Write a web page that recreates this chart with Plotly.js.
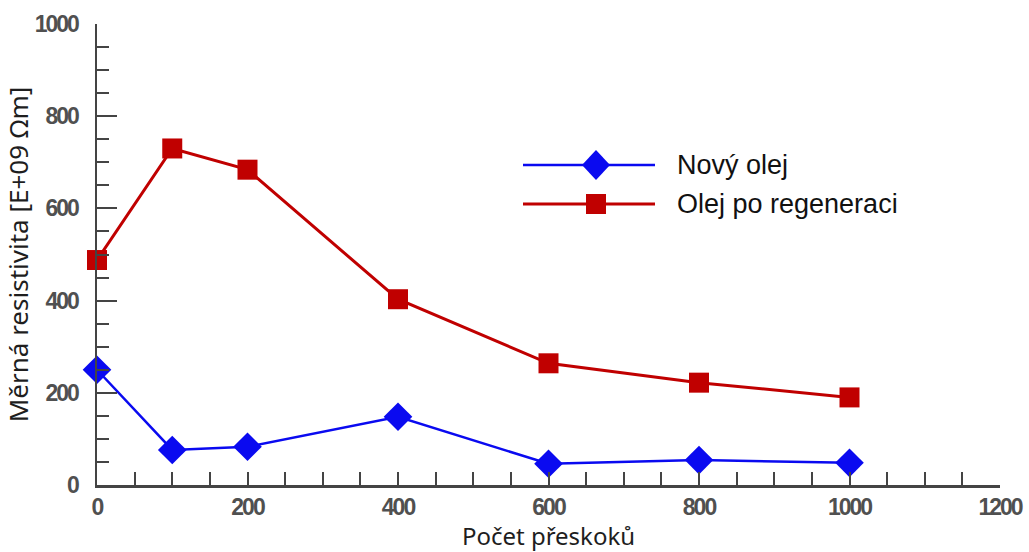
<!DOCTYPE html>
<html>
<head>
<meta charset="utf-8">
<script src="https://cdn.plot.ly/plotly-3.0.1.min.js"></script>
<style>
html,body{margin:0;padding:0;background:#fff;}
#chart{width:1029px;height:552px;}
#chart .xtick text, #chart .ytick text{letter-spacing:-2px;}
</style>
</head>
<body>
<div id="chart"></div>
<script>
const pocetPreskoku = [0, 100, 200, 400, 600, 800, 1000];
const novyOlej = [250, 76, 83, 148, 46, 54, 48];
const olejPoRegeneraci = [488, 730, 684, 403, 264, 222, 190];
const seriesNames = ["Nový olej", "Olej po regeneraci"];
const xTitle = "Počet přeskoků";
const yTitle = "Měrná resistivita [E+09 Ωm]";

const blue = "#0a0af0";
const red = "#c00000";
const tickFont = {family: "Liberation Sans, Arial, sans-serif", size: 23, color: "#505050", weight: "bold"};
const xTitleFont = {family: "Noto Sans, Open Sans, sans-serif", size: 24, color: "#1e1e1e"};
const yTitleFont = {family: "Noto Sans, Open Sans, sans-serif", size: 26, color: "#1e1e1e"};
const legendFont = {family: "Liberation Sans, Arial, sans-serif", size: 27, color: "#111"};

const traces = [
  {x: pocetPreskoku, y: novyOlej, name: seriesNames[0], type: "scatter", mode: "lines+markers",
   line: {color: blue, width: 2.5}, marker: {symbol: "diamond", size: 22, color: blue}, cliponaxis: false},
  {x: pocetPreskoku, y: olejPoRegeneraci, name: seriesNames[1], type: "scatter", mode: "lines+markers",
   line: {color: red, width: 3}, marker: {symbol: "square", size: 20, color: red}, cliponaxis: false}
];

// custom legend (paper coordinates)
const L = {x0: (523-97)/903, x1: (655-97)/903, xm: (596-97)/903, y1: (485-165)/461, y2: (485-204)/461, tx: (675-97)/903};
const shapes = [
  {type: "line", xref: "paper", yref: "paper", x0: L.x0, x1: L.x1, y0: L.y1, y1: L.y1, line: {color: blue, width: 2.5}},
  {type: "path", xref: "paper", yref: "paper", xsizemode: "pixel", ysizemode: "pixel", xanchor: L.xm, yanchor: L.y1,
   path: "M0,15 L14,0 L0,-15 L-14,0 Z", fillcolor: blue, line: {width: 0}},
  {type: "line", xref: "paper", yref: "paper", x0: L.x0, x1: L.x1, y0: L.y2, y1: L.y2, line: {color: red, width: 3}},
  {type: "rect", xref: "paper", yref: "paper", xsizemode: "pixel", ysizemode: "pixel", xanchor: L.xm, yanchor: L.y2,
   x0: -10, x1: 10, y0: -10, y1: 10, fillcolor: red, line: {width: 0}}
];
const annotations = [
  {xref: "paper", yref: "paper", x: L.tx, y: L.y1, xanchor: "left", yanchor: "middle", showarrow: false, text: seriesNames[0], font: legendFont},
  {xref: "paper", yref: "paper", x: L.tx, y: L.y2, xanchor: "left", yanchor: "middle", showarrow: false, text: seriesNames[1], font: legendFont}
];

const layout = {
  width: 1029, height: 552,
  margin: {l: 97, r: 29, t: 24, b: 67},
  paper_bgcolor: "#fff", plot_bgcolor: "#fff",
  showlegend: false,
  xaxis: {
    range: [0, 1200], dtick: 200, tick0: 0, showgrid: false, zeroline: false,
    showline: true, linecolor: "#444", linewidth: 2.5,
    ticks: "inside", ticklen: 13, tickwidth: 2, tickcolor: "#444",
    minor: {dtick: 50, ticks: "inside", ticklen: 13, tickwidth: 2, tickcolor: "#444", showgrid: false},
    tickfont: tickFont, ticklabelstandoff: 0,
    title: {text: xTitle, font: xTitleFont, standoff: 8}
  },
  yaxis: {
    range: [0, 1000], dtick: 200, tick0: 0, showgrid: false, zeroline: false,
    showline: true, linecolor: "#444", linewidth: 2.5,
    ticks: "inside", ticklen: 20, tickwidth: 2, tickcolor: "#444",
    minor: {dtick: 50, ticks: "inside", ticklen: 12, tickwidth: 2, tickcolor: "#444", showgrid: false},
    tickfont: tickFont, ticklabelstandoff: 12,
    title: {text: yTitle, font: yTitleFont, standoff: 0}
  },
  shapes: shapes,
  annotations: annotations
};

Plotly.newPlot("chart", traces, layout, {displayModeBar: false, staticPlot: true});
</script>
</body>
</html>
